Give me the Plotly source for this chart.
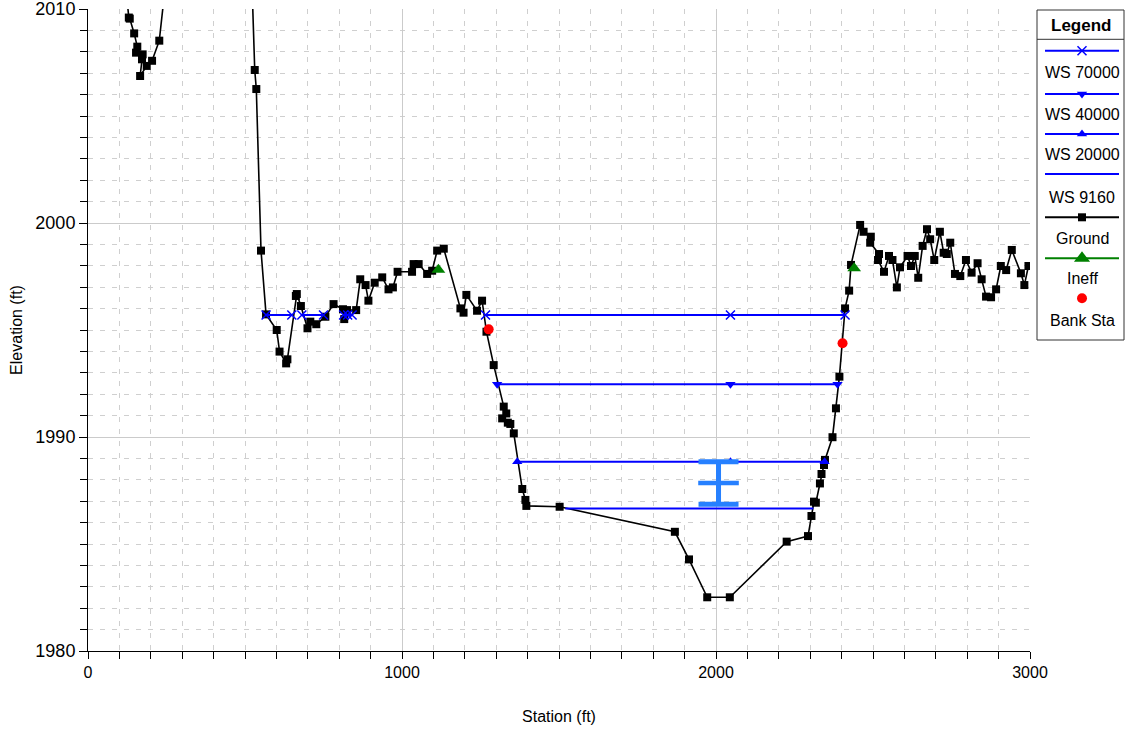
import plotly.graph_objects as go

# ---------------- data ----------------
ground_sta = [100, 130, 133, 147, 157, 153, 174, 172, 166, 187, 204, 227, 268, 516,
              531, 536, 551, 567, 601, 610, 631, 635, 662, 665, 678, 699, 708, 727,
              756, 782, 812, 816, 825, 854, 867, 884, 893, 913, 937, 957, 971, 986,
              1032, 1037, 1053, 1080, 1096, 1112, 1133, 1186, 1196, 1205, 1239, 1255,
              1269, 1292, 1324, 1332, 1319, 1337, 1345, 1356, 1383, 1393, 1396, 1502,
              1869, 1914, 1972, 2044, 2225, 2293, 2304, 2312, 2318, 2331, 2336, 2344,
              2347, 2371, 2382, 2393, 2411, 2424, 2430, 2459, 2470, 2493, 2491, 2519,
              2516, 2535, 2551, 2562, 2576, 2586, 2610, 2621, 2633, 2644, 2658, 2672,
              2682, 2695, 2713, 2725, 2735, 2746, 2761, 2778, 2796, 2814, 2833, 2846,
              2860, 2876, 2892, 2907, 2924, 2942, 2971, 2982, 2995]
ground_elev = [2014.0, 2009.6, 2009.55, 2008.86, 2008.24, 2007.96, 2007.88, 2007.65, 2006.87,
               2007.34, 2007.58, 2008.52, 2014.0, 2014.0,
               2007.15, 2006.26, 1998.71, 1995.73, 1995.0, 1993.99, 1993.44, 1993.63, 1996.59,
               1996.68, 1996.12, 1995.08, 1995.39, 1995.27, 1995.62, 1996.21, 1995.97, 1995.51,
               1995.93, 1995.93, 1997.37, 1997.10, 1996.37, 1997.21, 1997.46, 1996.90, 1996.99,
               1997.72, 1997.72, 1998.08, 1998.08, 1997.62, 1997.77, 1998.71, 1998.80, 1996.01,
               1995.81, 1996.64, 1995.90, 1996.37, 1994.92, 1993.36, 1991.42, 1991.10, 1990.87,
               1990.67, 1990.61, 1990.17, 1987.57, 1987.06, 1986.78, 1986.74, 1985.57, 1984.28,
               1982.51, 1982.51, 1985.11, 1985.37, 1986.31, 1986.98, 1986.93, 1987.83, 1988.27,
               1988.69, 1988.93, 1989.99, 1991.34, 1992.82, 1996.01, 1996.84, 1998.04, 1999.91,
               1999.59, 1999.36, 1999.08, 1998.55, 1998.27, 1997.72, 1998.46, 1998.27, 1996.99,
               1997.93, 1998.46, 1997.99, 1998.46, 1997.44, 1998.93, 1999.71, 1999.24, 1998.27,
               1999.59, 1998.61, 1998.55, 1999.08, 1997.62, 1997.52, 1998.27, 1997.68, 1998.12,
               1997.37, 1996.56, 1996.53, 1996.90, 1997.99, 1997.80, 1998.74, 1997.65, 1997.10,
               1997.99]

ws70000_sta = [567, 649, None, 681, 750, None, 814, 827, 841, None, 1266, 2046, 2411]
ws70000_level = 1995.70
ws40000_sta = [1303, 2046, 2387]
ws40000_level = 1992.46
ws20000_sta = [1367, 2046, 2346]
ws20000_level = 1988.84
ws9160_sta = [1520, 2310]
ws9160_level = 1986.66

ineff_sta = [1116, 2440]
ineff_elev = [1997.82, 1997.88]
bank_sta = [1276, 2403]
bank_elev = [1995.03, 1994.38]

obs_sta = [2008]
obs_elev = [1987.85]
obs_err = [0.99]

legend_names = ["WS 70000", "WS 40000", "WS 20000", "WS 9160", "Ground", "Ineff", "Bank Sta"]


def level_list(stations, level):
    return [None if s is None else level for s in stations]


FONT = "Arial, Liberation Sans, sans-serif"
BLUE = "#0000FF"
OBS = "#2680FF"

fig = go.Figure()

fig.add_trace(go.Scatter(
    x=ground_sta, y=ground_elev, mode="lines+markers",
    line=dict(color="black", width=1.6),
    marker=dict(symbol="square", size=8, color="black"),
    showlegend=False, hoverinfo="skip"))

fig.add_trace(go.Scatter(
    x=ws70000_sta, y=level_list(ws70000_sta, ws70000_level), mode="lines+markers",
    line=dict(color=BLUE, width=2), connectgaps=False,
    marker=dict(symbol="x-thin", size=9, line=dict(color=BLUE, width=1.5)),
    showlegend=False, hoverinfo="skip"))
fig.add_trace(go.Scatter(
    x=ws40000_sta, y=level_list(ws40000_sta, ws40000_level), mode="lines+markers",
    line=dict(color=BLUE, width=2),
    marker=dict(symbol="triangle-down", size=9, color=BLUE),
    showlegend=False, hoverinfo="skip"))
fig.add_trace(go.Scatter(
    x=ws20000_sta, y=level_list(ws20000_sta, ws20000_level), mode="lines+markers",
    line=dict(color=BLUE, width=2),
    marker=dict(symbol="triangle-up", size=9, color=BLUE),
    showlegend=False, hoverinfo="skip"))
fig.add_trace(go.Scatter(
    x=ws9160_sta, y=level_list(ws9160_sta, ws9160_level), mode="lines",
    line=dict(color=BLUE, width=2),
    showlegend=False, hoverinfo="skip"))

fig.add_trace(go.Scatter(
    x=ineff_sta, y=ineff_elev, mode="markers",
    marker=dict(symbol="triangle-up", size=12, color="#008000"),
    showlegend=False, hoverinfo="skip"))
fig.add_trace(go.Scatter(
    x=bank_sta, y=bank_elev, mode="markers",
    marker=dict(symbol="circle", size=10, color="#FF0000"),
    showlegend=False, hoverinfo="skip"))

fig.add_trace(go.Scatter(
    x=obs_sta, y=obs_elev, mode="markers",
    marker=dict(symbol="line-ew", size=29, line=dict(color=OBS, width=4.5)),
    error_y=dict(type="data", array=obs_err, visible=True, color=OBS,
                 thickness=5, width=20),
    showlegend=False, hoverinfo="skip"))

# ---------------- custom legend (overlay axes in pixel units) ----------------
LX0, LX1 = 1037, 1124
LCX = 1082
sample_y = [50.7, 94, 134, 174, 217.3, 258.3, 298.3]
text_y = [72.7, 114, 154, 197.3, 238.3, 278.3, 320]
line_colors = [BLUE, BLUE, BLUE, BLUE, "black", "#008000", None]
shapes = [
    dict(type="rect", xref="x2", yref="y2", x0=LX0, x1=LX1, y0=10, y1=340,
         line=dict(color="#333333", width=1), fillcolor="white", layer="below"),
    dict(type="line", xref="x2", yref="y2", x0=LX0, x1=LX1, y0=39.3, y1=39.3,
         line=dict(color="#333333", width=1)),
]
for yy, col in zip(sample_y, line_colors):
    if col is not None:
        shapes.append(dict(type="line", xref="x2", yref="y2", x0=1045, x1=1119,
                           y0=yy, y1=yy, line=dict(color=col, width=2)))

annotations = [dict(xref="x2", yref="y2", x=LCX - 1, y=25, text="<b>Legend</b>",
                    showarrow=False, font=dict(family=FONT, size=17, color="black"),
                    xanchor="center", yanchor="middle")]
for name, yy in zip(legend_names, text_y):
    annotations.append(dict(xref="x2", yref="y2", x=LCX, y=yy, text=name, showarrow=False,
                            font=dict(family=FONT, size=16, color="black"),
                            xanchor="center", yanchor="middle"))

leg_symbols = [
    dict(symbol="x-thin", size=9, line=dict(color=BLUE, width=1.5)),
    dict(symbol="triangle-down", size=9, color=BLUE),
    dict(symbol="triangle-up", size=9, color=BLUE),
    None,
    dict(symbol="square", size=8, color="black"),
    dict(symbol="triangle-up", size=14, color="#008000"),
    dict(symbol="circle", size=10, color="#FF0000"),
]
for yy, mk in zip(sample_y, leg_symbols):
    if mk is None:
        continue
    fig.add_trace(go.Scatter(x=[LCX], y=[yy], mode="markers", marker=mk,
                             xaxis="x2", yaxis="y2", showlegend=False, hoverinfo="skip"))

fig.update_layout(
    width=1125, height=729,
    margin=dict(l=88, r=0, t=9, b=78, autoexpand=False),
    paper_bgcolor="white", plot_bgcolor="white",
    font=dict(family=FONT, size=16, color="black"),
    showlegend=False,
    shapes=shapes, annotations=annotations,
    xaxis=dict(
        domain=[0, 0.9084], range=[0, 3000], dtick=1000, tick0=0, automargin=False,
        showgrid=True, gridcolor="#CBCBCB", gridwidth=1,
        showline=True, linecolor="black", linewidth=1,
        ticks="outside", ticklen=7, tickcolor="black",
        minor=dict(dtick=100, showgrid=True, gridcolor="#CFCFCF", griddash="5px,7px",
                   ticks="outside", ticklen=7, tickcolor="black"),
        zeroline=False, ticklabeloverflow="allow",
        title=dict(text="Station (ft)", font=dict(family=FONT, size=16), standoff=30),
        tickfont=dict(family=FONT, size=16),
    ),
    yaxis=dict(
        domain=[0, 1], range=[1980, 2010], dtick=10, tick0=1980, automargin=False,
        showgrid=True, gridcolor="#CBCBCB", gridwidth=1,
        showline=True, linecolor="black", linewidth=1,
        ticks="outside", ticklen=8, tickcolor="black",
        minor=dict(dtick=1, showgrid=True, gridcolor="#CFCFCF", griddash="5px,7px",
                   ticks="outside", ticklen=7, tickcolor="black"),
        zeroline=False, ticklabeloverflow="allow",
        title=dict(text="Elevation (ft)", font=dict(family=FONT, size=16), standoff=8),
        tickfont=dict(family=FONT, size=18),
    ),
    xaxis2=dict(domain=[0.9084, 1], range=[1030, 1125], visible=False,
                anchor="y2", fixedrange=True),
    yaxis2=dict(domain=[0, 1], range=[651, 9], visible=False,
                anchor="x2", fixedrange=True),
)

fig.write_html("out.html", config={"displayModeBar": False},
               post_script="document.body.style.margin='0';")
